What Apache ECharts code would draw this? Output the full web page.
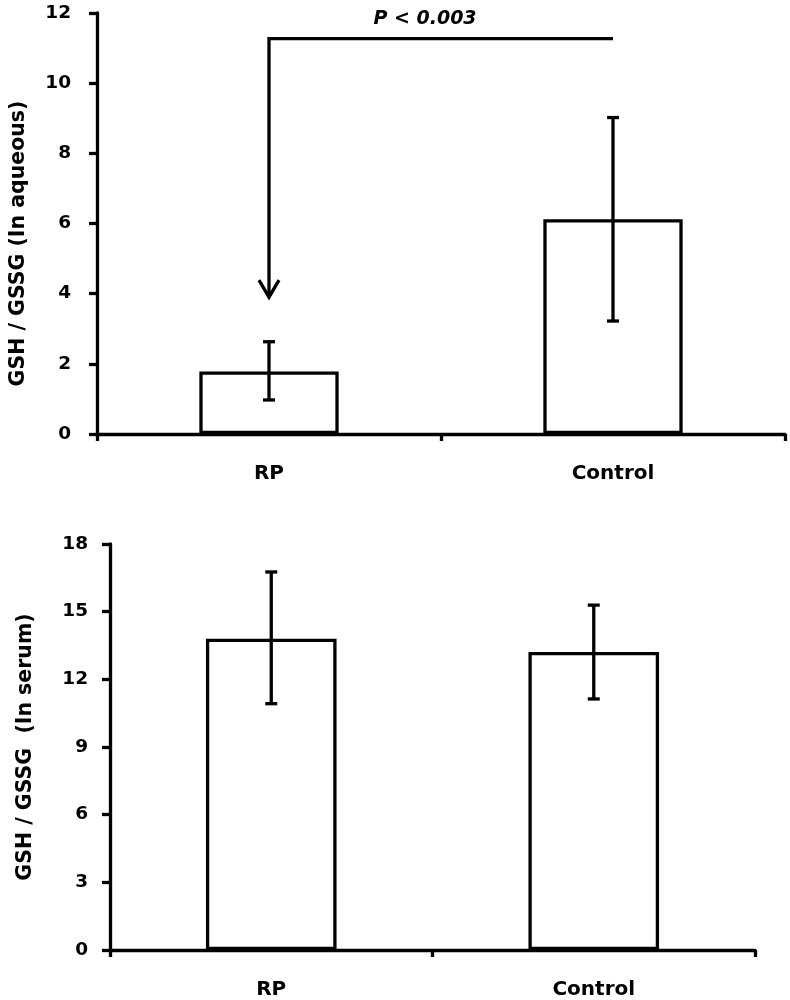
<!DOCTYPE html>
<html>
<head>
<meta charset="utf-8">
<script src="https://cdn.jsdelivr.net/npm/echarts@6/dist/echarts.min.js"></script>
<style>
html,body{margin:0;padding:0;background:#fff;}
#chart{width:790px;height:1000px;}
</style>
</head>
<body>
<div id="chart"></div>
<script>
// ---- data ----
var categories = ['RP', 'Control'];

var aqueousMean = [1.78, 6.12];
var aqueousLow  = [0.97, 3.22];
var aqueousHigh = [2.63, 9.02];
var aqueousTicks = [0, 2, 4, 6, 8, 10, 12];

var serumMean = [13.8, 13.21];
var serumLow  = [10.92, 11.13];
var serumHigh = [16.76, 15.29];
var serumTicks = [0, 3, 6, 9, 12, 15, 18];

var pLabel = 'P < 0.003';
var bracketFrom = 0;      // category index where arrow points
var bracketTo = 1;        // category index at the other end
var bracketLevel = 11.27; // y value of the horizontal bracket
var arrowTip = 3.9;       // y value of arrow tip

var titleAqueous = 'GSH / GSSG (In aqueous)';
var titleSerum = 'GSH / GSSG  (In serum)';

// ---- helpers ----
var FONT = 'DejaVu Sans';
var LW = 3.3;
var errData = function (low, high) {
  return low.map(function (l, i) { return [i, l, high[i]]; });
};

function renderErr(params, api) {
  var x = api.value(0);
  var lo = api.coord([x, api.value(1)]);
  var hi = api.coord([x, api.value(2)]);
  var hw = 6;
  var st = { stroke: '#000', lineWidth: LW, fill: null };
  return {
    type: 'group',
    children: [
      { type: 'line', shape: { x1: lo[0], y1: lo[1], x2: hi[0], y2: hi[1] }, style: st },
      { type: 'line', shape: { x1: lo[0] - hw, y1: lo[1], x2: lo[0] + hw, y2: lo[1] }, style: st },
      { type: 'line', shape: { x1: hi[0] - hw, y1: hi[1], x2: hi[0] + hw, y2: hi[1] }, style: st }
    ]
  };
}

function renderBracket(params, api) {
  var a = api.value(0), b = api.value(1), lvl = api.value(2), tip = api.value(3);
  var pTip = api.coord([a, tip]);
  var pA = api.coord([a, lvl]);
  var pB = api.coord([b, lvl]);
  var st = { stroke: '#000', lineWidth: LW, fill: null };
  return {
    type: 'group',
    children: [
      { type: 'polyline', shape: { points: [pTip, pA, pB] }, style: st },
      { type: 'polyline', shape: { points: [[pTip[0] - 10, pTip[1] - 17], pTip, [pTip[0] + 10, pTip[1] - 17]] }, style: st },
      { type: 'text', style: {
          text: pLabel, x: (pA[0] + pB[0]) / 2 - 16, y: pA[1] - 20,
          align: 'center', verticalAlign: 'middle',
          font: 'italic bold 19px "' + FONT + '"', fill: '#000' } }
    ]
  };
}

var axisLine = { show: true, lineStyle: { color: '#000', width: LW } };

function xAxisCfg(gridIndex) {
  return {
    type: 'category', gridIndex: gridIndex, data: categories,
    axisLine: axisLine,
    axisTick: { show: true, alignWithLabel: false, length: 7, lineStyle: { color: '#000', width: LW } },
    axisLabel: { margin: 30, color: '#000', fontFamily: FONT, fontWeight: 'bold', fontSize: 20 },
    splitLine: { show: false }
  };
}

function yAxisCfg(gridIndex, ticks, title, margin, gap, shift) {
  return {
    type: 'value', gridIndex: gridIndex,
    min: ticks[0], max: ticks[ticks.length - 1], interval: ticks[1] - ticks[0],
    axisLine: axisLine,
    axisTick: { show: true, length: 8, lineStyle: { color: '#000', width: LW } },
    axisLabel: { margin: margin, color: '#000', fontFamily: FONT, fontWeight: 'bold', fontSize: 18.5 },
    splitLine: { show: false },
    name: title, nameLocation: 'middle', nameGap: gap, nameRotate: 90,
    nameTextStyle: { color: '#000', fontFamily: FONT, fontWeight: 'bold', fontSize: 20.5,
      padding: [0, shift, 0, 0] }
  };
}

var barStyle = { color: '#fff', borderColor: '#000', borderWidth: LW };

var option = {
  animation: false,
  backgroundColor: '#fff',
  grid: [
    { left: 96, top: 13, right: 5, height: 421 },
    { left: 110, top: 544, right: 35, height: 411 }
  ],
  xAxis: [xAxisCfg(0), xAxisCfg(1)],
  yAxis: [
    yAxisCfg(0, aqueousTicks, titleAqueous, 26, 68, 40),
    yAxisCfg(1, serumTicks, titleSerum, 22, 74, 0)
  ],
  series: [
    { type: 'bar', xAxisIndex: 0, yAxisIndex: 0, data: aqueousMean, barWidth: '40.5%', itemStyle: barStyle, silent: true },
    { type: 'custom', xAxisIndex: 0, yAxisIndex: 0, data: errData(aqueousLow, aqueousHigh), renderItem: renderErr, silent: true, z: 5 },
    { type: 'custom', xAxisIndex: 0, yAxisIndex: 0, data: [[bracketFrom, bracketTo, bracketLevel, arrowTip]], renderItem: renderBracket, silent: true, z: 5 },
    { type: 'bar', xAxisIndex: 1, yAxisIndex: 1, data: serumMean, barWidth: '40.5%', itemStyle: barStyle, silent: true },
    { type: 'custom', xAxisIndex: 1, yAxisIndex: 1, data: errData(serumLow, serumHigh), renderItem: renderErr, silent: true, z: 5 }
  ]
};

var chart = echarts.init(document.getElementById('chart'), null, { renderer: 'canvas' });
chart.setOption(option);
</script>
</body>
</html>
